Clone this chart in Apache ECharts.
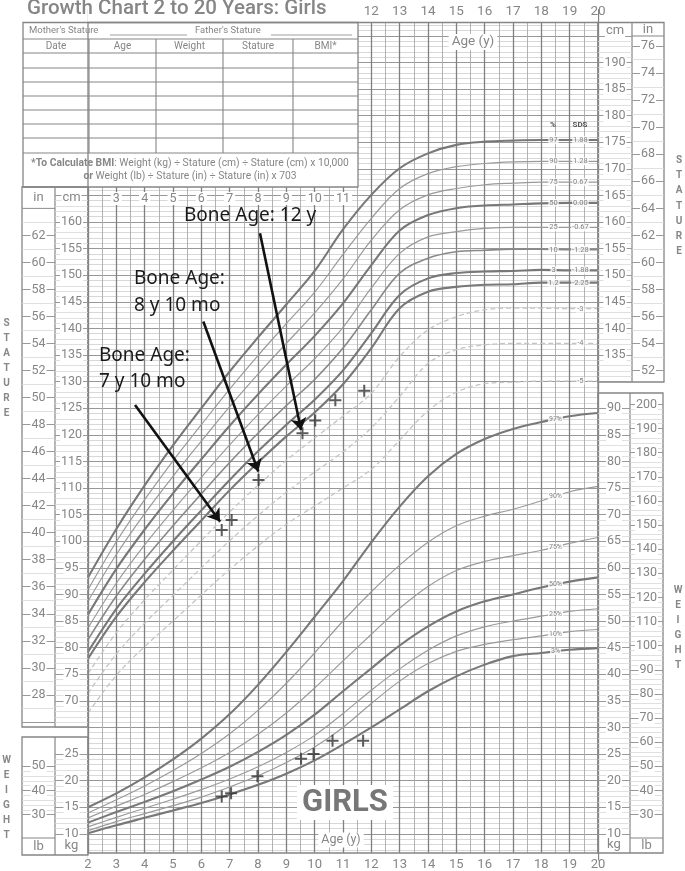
<!DOCTYPE html>
<html><head><meta charset="utf-8">
<script src="https://cdn.jsdelivr.net/npm/echarts@6/dist/echarts.min.js"></script>
<style>html,body{margin:0;padding:0;background:#fff}#c{width:685px;height:871px}</style>
</head><body><div id="c"></div>
<script>
// ---------- data ----------
const ages = [2,3,4,5,6,7,8,9,10,11,12,13,14,15,16,17,18,19,20];
// stature (cm)
const stat97  = [93.2,102.3,110.5,118.0,125.0,131.9,138.3,144.5,150.8,158.6,165.1,170.1,172.9,174.5,175.1,175.3,175.4,175.4,175.4];
const stat90  = [90.9,99.9,107.8,115.1,121.9,128.6,134.9,140.9,146.8,153.9,160.7,166.3,169.1,170.4,171.0,171.3,171.4,171.4,171.4];
const stat75  = [88.7,97.5,105.2,112.2,118.8,125.3,131.4,137.2,142.9,149.3,156.6,162.3,165.1,166.3,167.0,167.3,167.5,167.5,167.5];
const stat50  = [86.2,94.8,102.2,109.0,115.4,121.7,127.6,133.2,138.6,144.7,151.9,158.4,161.3,162.6,163.1,163.3,163.5,163.6,163.6];
const stat25  = [83.7,92.1,99.3,105.8,112.0,118.1,123.8,129.2,134.3,140.2,147.6,154.1,157.2,158.2,158.8,159.0,159.0,159.0,159.0];
const stat10  = [81.5,89.7,96.6,102.9,108.9,114.8,120.3,125.5,130.4,136.3,143.5,150.4,153.2,154.4,154.7,154.9,154.9,154.8,154.8];
const stat3   = [79.2,87.3,93.9,100.0,105.8,111.5,116.9,121.9,126.6,132.1,139.1,146.3,149.4,150.4,150.7,150.8,151.0,150.9,150.9];
const stat1_2 = [77.9,85.8,92.3,98.2,103.9,109.6,114.8,119.7,124.2,129.5,136.3,143.8,146.9,147.8,148.2,148.3,148.6,148.6,148.6];
const statM3  = [75.1,82.8,89.0,94.6,100.1,105.5,110.5,115.2,119.4,123.5,127.8,134.7,139.7,142.2,143.5,143.8,143.8,143.7,143.7];
const statM4  = [71.4,78.8,84.6,89.8,95.0,100.1,104.8,109.2,113.0,116.8,121.3,127.2,133.4,136.0,136.9,137.2,137.2,137.2,137.2];
const statM5  = [67.7,74.8,80.2,85.0,89.9,94.7,99.1,103.2,106.6,110.0,113.5,119.0,124.5,128.0,129.6,129.9,130.1,130.1,130.1];
// weight (kg)
const wt97 = [15.0,17.6,20.6,24.0,27.9,32.5,38.0,44.2,50.8,57.5,64.8,71.5,77.2,81.4,84.2,86.1,87.4,88.5,89.1];
const wt90 = [13.9,16.4,19.0,21.9,25.1,28.8,33.2,38.3,44.0,50.0,55.5,60.5,64.8,67.9,69.7,71.0,72.6,74.3,75.3];
const wt75 = [13.0,15.2,17.4,19.8,22.4,25.3,28.7,32.7,37.4,42.5,47.5,52.4,56.5,59.5,61.2,62.3,63.3,64.6,65.7];
const wt50 = [12.1,14.1,16.0,18.0,20.2,22.6,25.4,28.6,32.4,36.8,41.1,45.4,49.0,51.8,53.7,55.0,56.3,57.4,58.2];
const wt25 = [11.3,13.1,14.8,16.5,18.3,20.3,22.6,25.3,28.5,32.6,37.0,41.0,44.5,47.2,48.9,50.0,50.9,51.8,52.3];
const wt10 = [10.6,12.3,13.8,15.3,16.9,18.8,20.9,23.4,26.3,30.0,34.5,38.7,42.0,44.3,45.6,46.5,47.2,48.0,48.4];
const wt3  = [10.1,11.6,13.0,14.4,15.8,17.4,19.2,21.3,23.8,26.8,30.0,33.4,36.8,39.6,41.8,43.4,44.0,44.6,44.9];
// patient
const patStatAge = [6.72,7.07,8.02,9.57,10.02,10.73,11.75];
const patStat    = [102.1,104.0,111.5,120.3,122.7,126.5,128.3];
const patWtAge   = [6.72,7.05,7.98,9.52,9.96,10.63,11.71];
const patWt      = [17.0,17.6,20.8,24.1,25.0,27.5,27.5];
// arrows (age, cm)
const arrowFromAge = [3.66,6.07,8.07];
const arrowFromCm  = [125.6,141.3,157.9];
const arrowToAge   = [6.66,8.01,9.52];
const arrowToCm    = [103.7,113.1,120.9];
// labels
const pctNames   = ['97','90','75','50','25','10','3','1.2'];
const sdsNames   = ['1.88','1.28','0.67','0.00','-0.67','-1.28','-1.88','-2.25','-3','-4','-5'];
const wtNames    = ['97%','90%','75%','50%','25%','10%','3%'];
const xLabels    = [2,3,4,5,6,7,8,9,10,11,12,13,14,15,16,17,18,19,20];

// ---------- build ----------
const FONT = 'Roboto';
const GRAY = '#868686';
const thick = {color:'#787878', width:2.1};
const thin  = {color:'#9a9a9a', width:1.2};
const med   = {color:'#888888', width:1.6};
const dash  = {color:'#c4c4c4', width:1.3, type:[5,3]};

const statCurves = [stat97,stat90,stat75,stat50,stat25,stat10,stat3,stat1_2,statM3,statM4,statM5];
const statStyles = [thick,thin,thin,thick,thin,med,thick,thick,dash,dash,dash];
const wtCurves = [wt97,wt90,wt75,wt50,wt25,wt10,wt3];
const wtStyles = [thick,thin,thin,thick,thin,thin,thick];

const grids = [], xAxes = [], yAxes = [];
const hiddenAxis = (gi)=>({gridIndex:gi,type:'value',min:0,max:1,show:false});

// main grid (cm 40..200 ; px per cm 5.32 ; 160cm at y=222)
grids.push({left:88,width:510,top:9.2,height:851.2});
xAxes.push({gridIndex:0,type:'value',min:2,max:20,interval:1,
  axisLine:{show:false},axisTick:{show:false},axisLabel:{show:false},
  splitLine:{show:true,lineStyle:{color:'#808080',width:1.3}},
  minorTick:{show:false,splitNumber:2},
  minorSplitLine:{show:true,lineStyle:{color:'#a9a9a9',width:0.9}}});
yAxes.push({gridIndex:0,type:'value',min:40,max:200,interval:5,
  axisLine:{show:false},axisTick:{show:false},axisLabel:{show:false},
  splitLine:{show:true,lineStyle:{color:'#989898',width:1}},
  minorTick:{show:false,splitNumber:5},
  minorSplitLine:{show:true,lineStyle:{color:'#cecece',width:0.8}}});
yAxes.push({gridIndex:0,type:'value',min:5,max:165,show:false});

// x labels
function labelGrid(top,width,extra){
  grids.push({left:88,width:width,top:top,height:1});
  const gi = grids.length-1;
  xAxes.push(Object.assign({gridIndex:gi,type:'value',min:2,max:2+width/28.333,interval:1,z:70,
    axisLine:{show:false},axisTick:{show:false},splitLine:{show:false}}, extra));
  yAxes.push(hiddenAxis(gi));
}
labelGrid(852,510,{axisLabel:{color:GRAY,fontSize:13,fontFamily:FONT,margin:5,
  formatter:v=>xLabels.includes(v)?String(v):''}});
labelGrid(22,510,{position:'top',axisLabel:{color:GRAY,fontSize:13.5,fontFamily:FONT,margin:3,
  formatter:v=>(xLabels.includes(v)&&v>=12)?String(v):''}});
labelGrid(197.5,270,{axisLabel:{color:GRAY,fontSize:12.5,fontFamily:FONT,margin:0,verticalAlign:'middle',
  backgroundColor:'#fff',padding:[0,2],
  formatter:v=>(xLabels.includes(v)&&v>=3&&v<=11)?String(v):''}});

// side columns
function column(left,width,top,height,min,max,interval,minorSplit,lo,hi){
  grids.push({left:left,width:width,top:top,height:height});
  const gi = grids.length-1;
  xAxes.push(hiddenAxis(gi));
  yAxes.push({gridIndex:gi,type:'value',min:min,max:max,interval:interval,position:'left',z:70,
    axisLine:{show:false},axisTick:{show:false},
    axisLabel:{inside:true,margin:width/2,align:'center',verticalAlign:'middle',color:GRAY,
      fontSize:12.5,fontFamily:FONT,backgroundColor:'#fff',padding:[0,1],
      formatter:v=>(v>=lo-1e-6&&v<=hi+1e-6)?String(Math.round(v)):''},
    splitLine:{show:true,lineStyle:{color:'#999',width:1}},
    minorTick:{show:false,splitNumber:minorSplit},
    minorSplitLine:{show:true,lineStyle:{color:'#d8d8d8',width:0.8}}});
}
column(55,33,195.4,532,65,165,5,5,70,160);        // left cm (stature)
column(22,33,208.38,513.49,26,64,2,2,28,62);       // left in
column(598,34,35.8,345.8,130,195,5,5,135,190);     // right cm
column(632,32,46.23,324.3,52,76,2,2,52,76);        // right in
column(598,32,408.2,425.6,10,90,5,5,10,90);        // right kg
column(630,33,404.38,410.22,30,200,10,5,30,200);   // right lb
column(55,33,754,79.8,10,25,5,5,10,25);            // left kg
column(22,33,766.3,48.3,30,50,10,5,30,50);         // left lb

const series = [];
statCurves.forEach((c,i)=>series.push({type:'line',xAxisIndex:0,yAxisIndex:0,symbol:'none',smooth:0.35,
  silent:true,z:3,lineStyle:statStyles[i],data:ages.map((a,j)=>[a,c[j]])}));
wtCurves.forEach((c,i)=>series.push({type:'line',xAxisIndex:0,yAxisIndex:1,symbol:'none',smooth:0.35,
  silent:true,z:3,lineStyle:wtStyles[i],data:ages.map((a,j)=>[a,c[j]])}));

const lblStyle = {show:true,position:'inside',color:'#666',fontSize:7.5,fontFamily:FONT,backgroundColor:'#fff',padding:[0,1]};
series.push({type:'scatter',xAxisIndex:0,yAxisIndex:0,symbolSize:0,z:6,silent:true,
  data:pctNames.map((n,i)=>({value:[18.43,statCurves[i][statCurves[i].length-1]],label:Object.assign({},lblStyle,{formatter:n})}))});
series.push({type:'scatter',xAxisIndex:0,yAxisIndex:0,symbolSize:0,z:6,silent:true,
  data:sdsNames.map((n,i)=>({value:[19.38,statCurves[i][statCurves[i].length-1]],label:Object.assign({},lblStyle,{formatter:n})}))});
series.push({type:'scatter',xAxisIndex:0,yAxisIndex:1,symbolSize:0,z:6,silent:true,
  data:wtNames.map((n,i)=>({value:[18.5,(wtCurves[i][16]+wtCurves[i][17])/2],label:Object.assign({},lblStyle,{formatter:n,fontSize:7})}))});

const plus = 'path://M-1,-6H1V-1H6V1H1V6H-1V1H-6V-1H-1Z';
series.push({type:'scatter',xAxisIndex:0,yAxisIndex:0,symbol:plus,symbolSize:12,z:8,silent:true,
  itemStyle:{color:'#333'},data:patStatAge.map((a,i)=>[a,patStat[i]])});
series.push({type:'scatter',xAxisIndex:0,yAxisIndex:1,symbol:plus,symbolSize:12,z:8,silent:true,
  itemStyle:{color:'#333'},data:patWtAge.map((a,i)=>[a,patWt[i]])});

series.push({type:'lines',coordinateSystem:'cartesian2d',xAxisIndex:0,yAxisIndex:0,z:9,silent:true,
  symbol:['none','arrow'],symbolSize:[0,12],
  lineStyle:{color:'#111',width:2.6,opacity:1},
  data:arrowFromAge.map((a,i)=>({coords:[[a,arrowFromCm[i]],[arrowToAge[i],arrowToCm[i]]]}))});

// ---------- decoration ----------
const G = [];
const S = '#858585';
const line = (x1,y1,x2,y2,w,z)=>G.push({type:'line',z:z||56,silent:true,shape:{x1,y1,x2,y2},style:{stroke:S,lineWidth:w||1}});
const rect = (x,y,w,h,fill,z,stroke)=>G.push({type:'rect',z:z,silent:true,shape:{x,y,width:w,height:h},style:{fill:fill||'none',stroke:stroke||null,lineWidth:1.3}});
const text = (t,x,y,o)=>G.push({type:'text',z:(o&&o.z)||60,silent:true,style:Object.assign({text:t,x,y,fill:GRAY,fontFamily:FONT,fontSize:8,align:'center',verticalAlign:'middle'},o||{})});

rect(88,0,510,22.5,'#fff',50);
rect(88,853,510,18,'#fff',50);
rect(88,22.5,510,830.5,null,55,S);
// table
rect(23,22.5,335,164.5,'#fff',52,S);
[39,53,68,82,96,110,124,138,153].forEach(y=>line(23,y,358,y,1.1));
[89,156,223,293].forEach(x=>line(x,39,x,153,1.1));
text("Mother's Stature",29,31,{align:'left',fontSize:9.5});
line(110,35,187,35,0.8);
text("Father's Stature",195,31,{align:'left',fontSize:9.5});
line(271,35,352,35,0.8);
[['Date',56],['Age',122.5],['Weight',189.5],['Stature',258],['BMI*',325.5]].forEach(d=>text(d[0],d[1],46.5,{fontSize:10}));
G.push({type:'text',z:60,silent:true,style:{text:'{b|*To Calculate BMI}: Weight (kg) ÷ Stature (cm) ÷ Stature (cm) x 10,000',
  x:190,y:163,align:'center',verticalAlign:'middle',fill:GRAY,fontFamily:FONT,fontSize:10.3,rich:{b:{fontWeight:'bold',fill:GRAY,fontFamily:FONT,fontSize:10.3}}}});
G.push({type:'text',z:60,silent:true,style:{text:'{b|or} Weight (lb) ÷ Stature (in) ÷ Stature (in) x 703',
  x:190,y:176,align:'center',verticalAlign:'middle',fill:GRAY,fontFamily:FONT,fontSize:10.3,rich:{b:{fontWeight:'bold',fill:GRAY,fontFamily:FONT,fontSize:10.3}}}});
// title
text('Growth Chart 2 to 20 Years: Girls',27,9,{align:'left',fontSize:20.5,fontWeight:500,fill:'#868686'});
// side panels
rect(22,187,66,540,null,55,S); line(55,187,55,727,1.2); line(22,208.4,55,208.4,1);
rect(22,737,66,118,null,55,S); line(55,737,55,855,1.2); line(22,838,55,838,1);
rect(598,22.5,66,359.5,null,55,S); line(632,22.5,632,382,1.2); line(632,36,664,36,1);
rect(598,393,65,460,null,55,S); line(630,393,630,853,1.2); line(630,838,663,838,1);
text('in',38.5,197.5,{fontSize:13});
text('cm',71.5,198,{fontSize:13,backgroundColor:'#fff',padding:[0,1],z:75});
text('lb',38.5,846.5,{fontSize:13});
text('kg',71.5,846,{fontSize:13,backgroundColor:'#fff',padding:[0,1],z:75});
text('cm',615,31,{fontSize:13,backgroundColor:'#fff',padding:[0,1],z:75});
text('in',648,30,{fontSize:13});
text('kg',614,845,{fontSize:13,backgroundColor:'#fff',padding:[0,1],z:75});
text('lb',646.5,845.5,{fontSize:13});
text('%',553,125,{fontSize:8,fontWeight:'bold',fill:'#555'});
text('SDS',580,125,{fontSize:8,fontWeight:'bold',fill:'#555'});
text('Age (y)',473,42,{fontSize:13.5,backgroundColor:'#fff',padding:[1,3]});
text('Age (y)',341,840,{fontSize:12.5,backgroundColor:'#fff',padding:[1,3]});
rect(297,785,96,35,'#fff',58);
text('GIRLS',345,803,{fontSize:31,fontWeight:'bold',fill:'#777'});
const vt = (word,x,y,lh)=>text(word.split('').join('\n'),x,y,{fontSize:10,fontWeight:'bold',lineHeight:lh,fill:'#888'});
vt('STATURE',6.5,368,15); vt('WEIGHT',6.5,797.5,15);
vt('STATURE',679,206,15.3); vt('WEIGHT',678,627.5,15);
// bone age notes
const BA = {align:'left',verticalAlign:'top',fontFamily:'Noto Sans',fontSize:19,fill:'#1a1a1a',z:62};
text('Bone Age: 12 y',184,203,Object.assign({},BA,{lineHeight:26}));
text('Bone Age:\n8 y 10 mo',134,265,Object.assign({},BA,{lineHeight:27}));
text('Bone Age:\n7 y 10 mo',99,343,Object.assign({},BA,{lineHeight:26}));

const chart = echarts.init(document.getElementById('c'),null,{renderer:'canvas'});
chart.setOption({animation:false,backgroundColor:'#fff',grid:grids,xAxis:xAxes,yAxis:yAxes,series:series,graphic:G});
</script></body></html>
